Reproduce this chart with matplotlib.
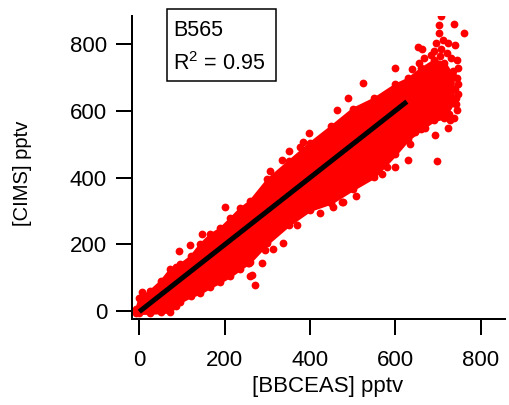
import matplotlib
matplotlib.use("Agg")
import matplotlib.pyplot as plt
from matplotlib.patches import Rectangle
import numpy as np

# ---- data ----
# dense core of the scatter cloud: x positions with lower / upper edges (pptv)
env_x = [-8, 0, 25, 50, 72, 85, 95, 120, 142, 166, 189, 213, 236, 259, 300, 350,
         400, 450, 500, 550, 600, 630, 660, 690, 715, 735]
env_upper = [5, 38, 61, 90, 125, 133, 140, 164, 200, 230, 248, 278, 308, 330, 395, 450,
             505, 555, 607, 638, 680, 698, 728, 752, 745, 705]
env_lower = [-6, -6, -6, -4, -2, 14, 27, 44, 54, 72, 87, 105, 126, 147, 203, 258,
             303, 325, 365, 402, 470, 515, 545, 572, 580, 625]

# individual scattered points outside the dense core
pts_x = [5.6, 94, 119, 146, 202, 185, 257, 259, 264, 270, 287, 255, 295, 314, 336,
         369, 423, 455, 474, 478, 509, 568, 580, 599, 630, 697, 634, 646, 693, 670,
         723, 728, 738, 744, 742, 744, 748, 745, 740, 723, 712, 695, 703, 762, 737,
         703, 707, 654, 662, 707, 720, 684, 655, 599, 525, 490, 463, 398, 351, 334,
         384, 377, 306, 740, 746, 735, 742, 730, 725, 748, 705, 690, 668, 640]
pts_y = [57, 181, 198, 231, 311, 96, 145, 106, 107, 77, 143, 145, 183, 185, 203,
         258, 293, 313, 328, 328, 346, 411, 433, 433, 452, 451, 501, 538, 528, 548,
         548, 573, 578, 603, 638, 698, 728, 753, 798, 803, 813, 805, 835, 835, 861,
         857, 885, 793, 785, 785, 775, 768, 745, 728, 683, 638, 603, 535, 481, 454,
         508, 493, 420, 665, 680, 720, 620, 760, 590, 650, 765, 780, 760, 725]

# linear fit
fit_x_range = [0, 627]
fit_slope = 1.005
fit_intercept = -2.0

x_ticks = [0, 200, 400, 600, 800]
y_ticks = [0, 200, 400, 600, 800]
label_text = "B565"
r2_value = 0.95

# ---- figure ----
plt.rcParams['font.family'] = ['Liberation Sans', 'DejaVu Sans']
plt.rcParams['mathtext.fontset'] = 'custom'
plt.rcParams['mathtext.rm'] = 'Liberation Sans'
plt.rcParams['mathtext.it'] = 'Liberation Sans:italic'

W, H = 509, 405
fig = plt.figure(figsize=(W / 100, H / 100), dpi=100)
ax = fig.add_axes([132 / W, (H - 319) / H, 373 / W, 303 / H])
ax.set_xlim(-17.1, 857)
ax.set_ylim(-24, 885)

red = '#ff0000'
ms = 5.6
ax.fill_between(env_x, env_lower, env_upper, color=red, lw=2.0, edgecolor=red, zorder=2)
ax.plot(env_x, env_upper, 'o', ms=ms, color=red, mec='none', zorder=2)
ax.plot(env_x, env_lower, 'o', ms=ms, color=red, mec='none', zorder=2)
ax.plot(pts_x, pts_y, 'o', ms=ms, color=red, mec='none', zorder=2)

fx = np.array(fit_x_range, dtype=float)
ax.plot(fx, fit_intercept + fit_slope * fx, color='black', lw=3.6,
        solid_capstyle='butt', zorder=3)

for s in ['top', 'right']:
    ax.spines[s].set_visible(False)
for s in ['left', 'bottom']:
    ax.spines[s].set_linewidth(1.44)

ax.set_xticks(x_ticks)
ax.set_yticks(y_ticks)
ax.tick_params(direction='out', length=11.5, width=1.44, labelsize=16, colors='black')
ax.tick_params(axis='y', pad=6.5)
ax.tick_params(axis='x', pad=10.5)

fig.text(327.5 / W, 1 - 376 / H, '[BBCEAS] pptv', ha='center', va='top', fontsize=16)
fig.text(23 / W, 1 - 173.5 / H, '[CIMS] pptv', ha='center', va='center',
         rotation=90, fontsize=14.5)

fig.add_artist(Rectangle((167 / W, 1 - 81 / H), 109 / W, 72 / H,
                         transform=fig.transFigure, fill=False, lw=1.1, ec='black'))
fig.text(173 / W, 1 - 36 / H, label_text, va='baseline', ha='left', fontsize=15.5)
fig.text(173 / W, 1 - 69.5 / H, r'R$^{2}$ = %.2f' % r2_value, va='baseline',
         ha='left', fontsize=15.5)

fig.savefig('out.png', dpi=100)
